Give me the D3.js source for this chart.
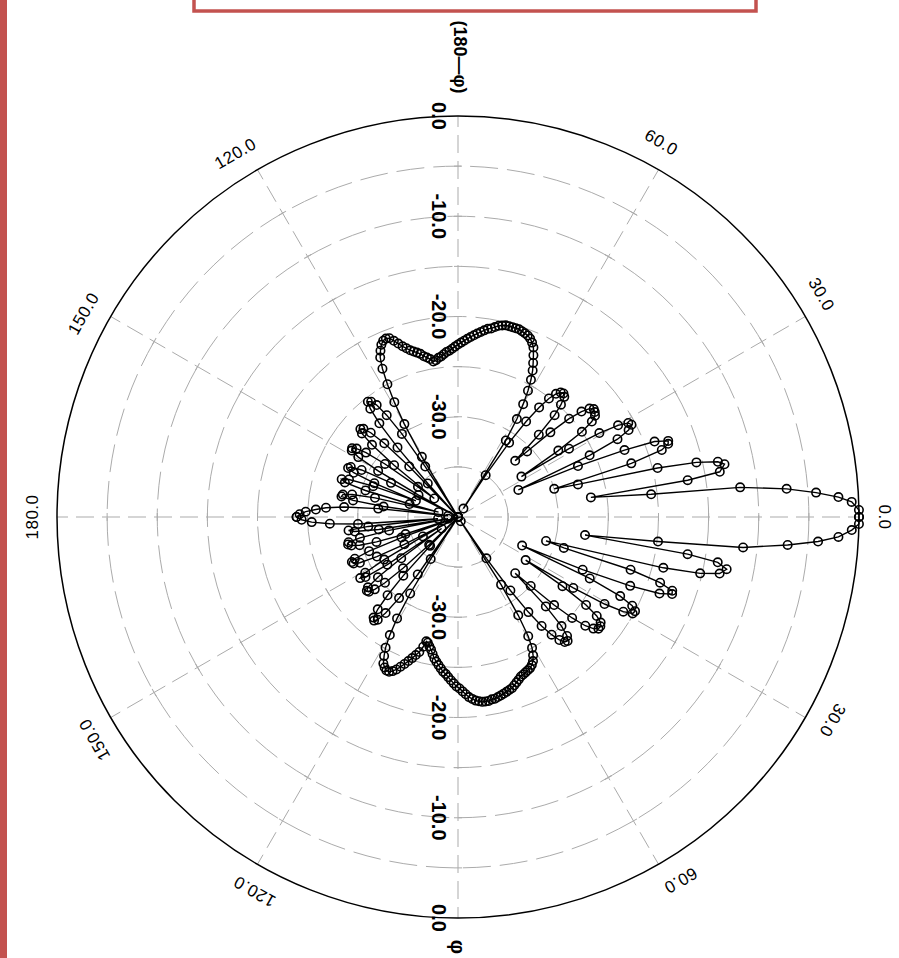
<!DOCTYPE html>
<html>
<head>
<meta charset="utf-8">
<script src="https://cdn.jsdelivr.net/npm/d3@7"></script>
<style>
  body { margin: 0; background: #fff; }
  svg { display: block; font-family: "Liberation Sans", Arial, sans-serif; }
  .ring, .spoke, .tick { fill: none; stroke: #ababab; stroke-width: 1; }
  .ring { stroke-dasharray: 28, 9; }
  .spoke { stroke-dasharray: 18, 8; }
  .rim { fill: none; stroke: #000; stroke-width: 1.5; }
  .trace { fill: none; stroke: #000; stroke-width: 1.4; }
  .mark { fill: none; stroke: #000; stroke-width: 1.6; }
</style>
</head>
<body>
<div id="chart"></div>
<script>
/**
 * page / polar frame
 */
const WIDTH = 899;
const HEIGHT = 958;
const CX = 458;
const CY = 517;
const R = 401;
const LABEL_R = 426;

/**
 * data: [angle (deg, counter-clockwise from 0.0 at right), level (dB)]
 * upper half is labelled (180-phi), lower half phi
 */
const upperPattern = [
    [0, 0], [1, 0], [2.2, -0.7], [3, -2], [3.9, -4.2], [4.9, -7.1], [6, -11.7], [6.7, -20.6], [8.4, -26.6],
    [9.1, -16.8], [9.8, -13.5], [11.2, -12.9], [12, -13.5], [12.9, -15.6], [13.8, -19.5], [15.2, -27.6], [16.3, -30],
    [17.2, -21.9], [18.2, -18.6], [19.2, -17.8], [19.9, -17.7], [21, -19], [21.9, -22.1], [23, -27], [24.2, -33.4],
    [25.1, -25.5], [26, -22.3], [27, -20.9], [28, -20.4], [28.9, -20.6], [29.8, -21.6], [30.7, -23.6], [31.6, -27], [32.5, -32.5],
    [33.5, -28], [34.5, -25], [35.5, -23.6], [36.5, -23], [37.5, -22.8], [38.5, -22.7], [39.5, -23], [40.5, -23.8],
    [41.5, -25.2], [42.5, -27.5], [43.5, -30.5], [44.5, -32],
    [45.5, -28.5], [46.5, -26], [47.5, -24.8], [48.5, -24], [49.5, -23.8], [50.5, -23.9], [51.5, -24.3], [52.5, -25.1],
    [53.5, -26.4], [54.5, -28.3], [55.5, -31], [56.5, -35], [57.3, -39],
    [58, -31], [59, -28.6], [60, -27], [61, -25.6], [62, -24.5], [63, -23.6], [64, -22.9], [65, -22.2], [66, -21.5], [67, -21.1],
    [68, -20.8], [69, -20.6], [70, -20.5], [71, -20.4], [72, -20.3], [73, -20.3], [74, -20.3], [75, -20.3], [76, -20.3], [77, -20.4],
    [78, -20.5], [79, -20.7], [80, -20.9], [81, -21], [82, -21.2], [83, -21.4], [84, -21.6], [85, -21.8], [86, -22], [87, -22.2],
    [88, -22.4], [89, -22.6], [90, -22.8], [91, -23], [92, -23.2], [93, -23.4], [94, -23.5], [95, -23.7], [96, -23.9], [97, -24],
    [98, -24.2], [99, -24.3], [100, -24], [101, -23.8], [102, -23.6], [103, -23.3], [104, -23.1], [105, -22.9], [106, -22.7], [107, -22.4],
    [108, -22.1], [109, -21.7], [110, -21.3], [111, -20.9], [112, -20.8], [113, -20.9], [114, -21.2], [115, -21.7], [116, -22.3], [117, -23.4],
    [118, -25], [119, -26.9], [120, -29.3], [121, -33], [122, -40],
    [123, -34], [124, -30], [125, -27.6], [126, -26.2], [127, -25.6], [128, -25.4], [129, -26.1], [130, -27.8], [131, -30.8], [132, -35.5], [133, -40],
    [134, -33], [135, -29.6], [136, -27.9], [137, -27.1], [138, -26.9], [139, -27.3], [140, -28.8], [141, -31.8], [142, -37],
    [143, -35], [144, -31], [145, -28.8], [146, -27.8], [147, -27.4], [148, -27.5], [149, -28.4], [150, -30.8], [151, -35.5], [152, -40],
    [153, -32.5], [154, -29.3], [155, -28.2], [156, -28], [157, -28.7], [158, -31], [159, -35.5],
    [160, -31], [161, -28.5], [162, -27.8], [163, -28.2], [164, -30.4], [165, -35], [166, -38],
    [167, -31.5], [168, -29.2], [169, -28.3], [170, -28.2], [171, -29.4], [172, -32.5], [173, -39],
    [174, -32], [175, -28.6], [176, -26.8], [177, -25.8], [178, -24.8], [179, -24.2], [180, -23.9]
];

const lowerPattern = [
    [0, 0], [-1, 0], [-1.9, -0.7], [-3, -2], [-3.9, -4], [-4.85, -7], [-6.1, -11.4], [-7, -19.9], [-8.1, -27.2],
    [-9.2, -16.8], [-9.9, -13.7], [-11, -12.7], [-12.2, -13.3], [-13.1, -15.2], [-13.9, -18.9], [-15.2, -30.9], [-16.3, -29],
    [-17, -22], [-18, -18.8], [-19, -17.4], [-19.8, -17.3], [-20.8, -18.5], [-21.8, -21.5], [-22.9, -26.5], [-24, -33],
    [-25, -25.5], [-26, -22], [-27, -20.5], [-28, -20], [-28.9, -20.1], [-29.8, -21], [-30.7, -23], [-31.6, -26.5], [-32.5, -32],
    [-33.5, -27.5], [-34.5, -24.5], [-35.5, -23], [-36.5, -22.3], [-37.5, -22.1], [-38.5, -22.1], [-39.5, -22.5], [-40.5, -23.3],
    [-41.5, -24.8], [-42.5, -27], [-43.5, -30], [-44.5, -32],
    [-45.5, -27.5], [-46.5, -25], [-47.5, -23.9], [-48.5, -23.5], [-49.5, -23.6], [-50.5, -24.1], [-51.5, -25], [-52.5, -26.3],
    [-53.5, -28.2], [-54.5, -31], [-55.5, -35], [-56.5, -39.5],
    [-57.5, -32], [-58.5, -28.5], [-59.5, -26.2], [-60.5, -25], [-61.5, -24.3], [-62.5, -23.8], [-63.5, -23.5], [-64.5, -23.3],
    [-65.5, -23.2], [-66.5, -23.1], [-67.5, -23], [-68.5, -22.9], [-69.5, -22.7], [-70.5, -22.5], [-71.5, -22.3], [-72.5, -22.1],
    [-73.5, -22], [-74.5, -21.9], [-75.5, -21.8], [-76.5, -21.7], [-77.5, -21.6], [-78.5, -21.5], [-79.5, -21.5], [-80.5, -21.4],
    [-81.5, -21.4], [-82.5, -21.4], [-83.5, -21.5], [-84.5, -21.6], [-85.5, -21.8], [-86.5, -22], [-87.5, -22.3], [-88.5, -22.6],
    [-89.5, -22.9], [-90.5, -23.1], [-91.5, -23.4], [-92.5, -23.7], [-93.5, -24], [-94.5, -24.3], [-95.5, -24.5], [-96.5, -24.8],
    [-97.5, -25.1], [-98.5, -25.4], [-99.5, -25.7], [-100.5, -26.1], [-101.5, -26.5], [-102.5, -26.8], [-103.5, -27.1], [-104.3, -27.2],
    [-105, -26.6], [-106, -26], [-107, -25.6], [-108, -25.2], [-109, -24.8], [-110, -24.4], [-111, -24], [-112, -23.6],
    [-113, -23.3], [-114, -23.1], [-115, -23.1], [-116, -23.3], [-117, -23.6], [-118, -24.3], [-119, -25.1], [-120, -26.4],
    [-121, -28.2], [-122, -31], [-123, -35], [-124, -40],
    [-125, -33], [-126, -30], [-127, -28], [-128, -27], [-129, -26.7], [-130, -26.9], [-131, -27.8], [-132, -29.5], [-133, -32], [-134, -36], [-135, -40],
    [-136, -36], [-137, -32.5], [-138, -30.2], [-139, -29], [-140, -28.4], [-141, -28.3], [-142, -28.6], [-143, -30], [-144, -33], [-145, -38],
    [-146, -31.5], [-147, -29], [-148, -28.5], [-149, -29.2], [-150, -31.5], [-151, -36], [-152, -40],
    [-153, -34], [-154, -31], [-155, -29.2], [-156, -28.6], [-157, -28.5], [-158, -28.9], [-159, -30.5], [-160, -34], [-161, -40],
    [-162, -34.5], [-163, -31.5], [-164, -29.8], [-165, -29], [-166, -28.7], [-167, -28.8], [-168, -30], [-169, -33], [-170, -39],
    [-171, -32], [-172, -29.6], [-173, -29], [-174, -31], [-175, -38],
    [-176, -30], [-177, -27.2], [-178, -25.4], [-179, -24.4], [-180, -23.9]
];

const ringLevels = [-35, -30, -25, -20, -15, -10, -5];
const radialLabelLevels = [0, -10, -20, -30];
const spokeAngles = [0, 30, 60, 90, 120, 150, 180, 210, 240, 270, 300, 330];
const angleLabelsUpper = [0, 30, 60, 120, 150, 180];
const angleLabelsLower = [-30, -60, -120, -150];
const upperTitle = "(180\u2014\u03c6)";
const lowerTitle = "\u03c6";

const svg = d3.select("#chart").append("svg")
                               .attr("width", WIDTH)
                               .attr("height", HEIGHT);

// red page furniture
svg.append("rect")
    .attr("x", 0).attr("y", 0)
    .attr("width", 7).attr("height", HEIGHT)
    .attr("fill", "#c3524f");
svg.append("rect")
    .attr("x", 194).attr("y", -12)
    .attr("width", 562).attr("height", 23)
    .attr("fill", "none")
    .attr("stroke", "#c3524f")
    .attr("stroke-width", 3.5);

const plot = svg.append("g").attr("transform", `translate(${CX},${CY})`);

const r = d3.scaleLinear().domain([-40, 0]).range([0, R]).clamp(true);
const toRad = a => (90 - a) * Math.PI / 180;
const fmt = d3.formatLocale({ decimal: ".", thousands: ",", grouping: [3], currency: ["", ""], minus: "-" }).format(".1f");

// grid
plot.selectAll("circle.ring")
    .data(ringLevels)
    .join("circle")
    .attr("class", "ring")
    .attr("r", d => r(d));

plot.selectAll("line.spoke")
    .data(spokeAngles)
    .join("line")
    .attr("class", "spoke")
    .attr("x1", 0).attr("y1", 0)
    .attr("x2", d => d3.pointRadial(toRad(d), R)[0])
    .attr("y2", d => d3.pointRadial(toRad(d), R)[1]);

// little cross ticks where spokes meet rings
const tickData = [];
spokeAngles.forEach(a => ringLevels.forEach(v => tickData.push({ a, v })));
plot.selectAll("line.tick")
    .data(tickData)
    .join("line")
    .attr("class", "tick")
    .attr("transform", d => {
        const p = d3.pointRadial(toRad(d.a), r(d.v));
        return `translate(${p[0]},${p[1]}) rotate(${-d.a})`;
    })
    .attr("x1", 0).attr("x2", 0)
    .attr("y1", -4).attr("y2", 4);

plot.append("circle")
    .attr("class", "rim")
    .attr("r", r(0));

// radial labels, up and down the vertical axis
const radialData = [];
[90, -90].forEach(a => radialLabelLevels.forEach(v => radialData.push({ a, v })));
plot.selectAll("text.rlab")
    .data(radialData)
    .join("text")
    .attr("class", "rlab")
    .attr("transform", d => {
        const p = d3.pointRadial(toRad(d.a), r(d.v));
        return `translate(${p[0] - 26},${p[1]}) rotate(90)`;
    })
    .attr("text-anchor", "middle")
    .attr("font-size", 20)
    .attr("font-weight", "bold")
    .text(d => fmt(d.v));

// angle labels, tangent to the rim
const angleData = angleLabelsUpper.concat(angleLabelsLower);
plot.selectAll("text.alab")
    .data(angleData)
    .join("text")
    .attr("class", "alab")
    .attr("transform", d => {
        const shift = (d === 0 || d === 180) ? 0 : 1.5;
        const p = d3.pointRadial(toRad(d + shift), LABEL_R);
        return `translate(${p[0]},${p[1]}) rotate(${90 - d})`;
    })
    .attr("text-anchor", "middle")
    .attr("dominant-baseline", "central")
    .attr("font-size", 17)
    .attr("letter-spacing", 0.5)
    .text(d => fmt(Math.abs(d)));

// titles
svg.append("text")
    .attr("transform", "translate(454,57) rotate(90)")
    .attr("text-anchor", "middle")
    .attr("font-size", 18)
    .attr("font-weight", "bold")
    .text(upperTitle);
svg.append("text")
    .attr("transform", "translate(451,947) rotate(90)")
    .attr("text-anchor", "middle")
    .attr("font-size", 20)
    .attr("font-weight", "bold")
    .text(lowerTitle);

// pattern traces
const radial = d3.lineRadial()
    .angle(d => toRad(d[0]))
    .radius(d => r(d[1]));

plot.selectAll("path.trace")
    .data([upperPattern, lowerPattern])
    .join("path")
    .attr("class", "trace")
    .attr("d", radial);

plot.selectAll("circle.mark")
    .data(upperPattern.concat(lowerPattern))
    .join("circle")
    .attr("class", "mark")
    .attr("r", 4.2)
    .attr("cx", d => d3.pointRadial(toRad(d[0]), r(d[1]))[0])
    .attr("cy", d => d3.pointRadial(toRad(d[0]), r(d[1]))[1]);
</script>
</body>
</html>
